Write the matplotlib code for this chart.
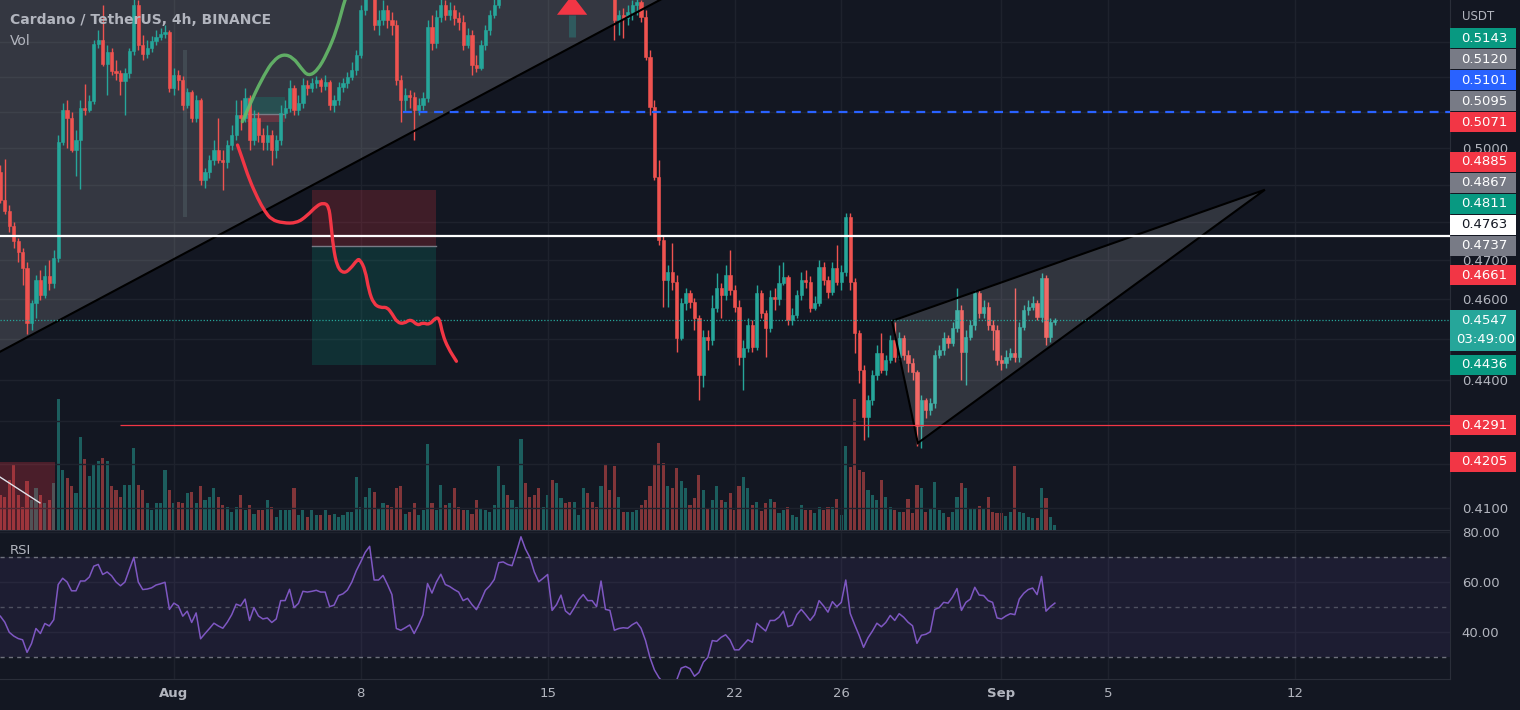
import numpy as np
import pandas as pd
import matplotlib
matplotlib.use("Agg")
import matplotlib.pyplot as plt
from matplotlib.patches import Rectangle, Polygon, PathPatch
from matplotlib.path import Path
from matplotlib.ticker import NullLocator

plt.rcParams["font.family"] = ["DejaVu Sans"]

BG = "#131722"
TXT = "#b2b5be"
GRID = "#1e222d"
BORDER = "#2a2e39"
UP = "#26a69a"
DOWN = "#ef5350"

# ADA/USDT 4h candles (Binance), first bar 2022-07-25 12:00
first_open = 0.4935
close = [
    0.4859, 0.4829, 0.4789, 0.4750, 0.4722, 0.4680, 0.4540, 0.4590, 0.4649, 0.4611,
    0.4659, 0.4641, 0.4705, 0.5016, 0.5106, 0.5084, 0.4994, 0.5022, 0.5112, 0.5106,
    0.5131, 0.5295, 0.5307, 0.5237, 0.5272, 0.5217, 0.5211, 0.5188, 0.5211, 0.5275,
    0.5410, 0.5292, 0.5266, 0.5284, 0.5304, 0.5316, 0.5325, 0.5330, 0.5168, 0.5205,
    0.5191, 0.5120, 0.5156, 0.5084, 0.5134, 0.4913, 0.4935, 0.4967, 0.4994, 0.4967,
    0.4962, 0.5008, 0.5036, 0.5092, 0.5084, 0.5140, 0.5022, 0.5084, 0.5036, 0.5016,
    0.5036, 0.4994, 0.5022, 0.5098, 0.5112, 0.5168, 0.5106, 0.5126, 0.5177, 0.5168,
    0.5182, 0.5191, 0.5174, 0.5185, 0.5120, 0.5134, 0.5171, 0.5182, 0.5200, 0.5220,
    0.5263, 0.5395, 0.5455, 0.5500, 0.5351, 0.5366, 0.5395, 0.5366, 0.5351, 0.5191,
    0.5134, 0.5148, 0.5142, 0.5106, 0.5120, 0.5140, 0.5345, 0.5298, 0.5375, 0.5410,
    0.5381, 0.5395, 0.5372, 0.5360, 0.5292, 0.5322, 0.5234, 0.5226, 0.5292, 0.5336,
    0.5381, 0.5410, 0.5470, 0.5485, 0.5470, 0.5485, 0.5546, 0.5608, 0.5577, 0.5546,
    0.5531, 0.5500, 0.5516, 0.5540, 0.5455, 0.5470, 0.5500, 0.5461, 0.5449, 0.5467,
    0.5491, 0.5510, 0.5491, 0.5485, 0.5470, 0.5531, 0.5449, 0.5440, 0.5366, 0.5381,
    0.5372, 0.5389, 0.5410, 0.5419, 0.5375, 0.5258, 0.5115, 0.4921, 0.4753, 0.4649,
    0.4670, 0.4644, 0.4503, 0.4590, 0.4616, 0.4593, 0.4553, 0.4412, 0.4505, 0.4498,
    0.4578, 0.4628, 0.4611, 0.4662, 0.4623, 0.4580, 0.4455, 0.4478, 0.4535, 0.4480,
    0.4616, 0.4565, 0.4528, 0.4606, 0.4601, 0.4641, 0.4657, 0.4548, 0.4560, 0.4611,
    0.4649, 0.4644, 0.4578, 0.4590, 0.4683, 0.4649, 0.4618, 0.4680, 0.4644, 0.4670,
    0.4813, 0.4644, 0.4515, 0.4424, 0.4311, 0.4352, 0.4412, 0.4465, 0.4424, 0.4448,
    0.4498, 0.4455, 0.4503, 0.4460, 0.4441, 0.4419, 0.4288, 0.4352, 0.4328, 0.4345,
    0.4460, 0.4473, 0.4503, 0.4490, 0.4528, 0.4573, 0.4468, 0.4505, 0.4535, 0.4616,
    0.4565, 0.4580, 0.4535, 0.4523, 0.4448, 0.4441, 0.4455, 0.4465, 0.4455, 0.4530,
    0.4573, 0.4580, 0.4590, 0.4555, 0.4654, 0.4505, 0.4543, 0.4547,
]
high = [
    0.4953, 0.4970, 0.4845, 0.4800, 0.4758, 0.4732, 0.4695, 0.4598, 0.4662, 0.4675,
    0.4688, 0.4700, 0.4727, 0.5036, 0.5126, 0.5134, 0.5100, 0.5050, 0.5134, 0.5179,
    0.5148, 0.5307, 0.5336, 0.5410, 0.5292, 0.5284, 0.5249, 0.5220, 0.5226, 0.5284,
    0.5455, 0.5425, 0.5322, 0.5307, 0.5319, 0.5336, 0.5342, 0.5351, 0.5336, 0.5226,
    0.5220, 0.5203, 0.5168, 0.5162, 0.5148, 0.5140, 0.4945, 0.4981, 0.5022, 0.5084,
    0.4994, 0.5022, 0.5064, 0.5134, 0.5134, 0.5168, 0.5148, 0.5106, 0.5100, 0.5056,
    0.5064, 0.5050, 0.5036, 0.5120, 0.5134, 0.5191, 0.5177, 0.5148, 0.5197, 0.5191,
    0.5197, 0.5203, 0.5197, 0.5205, 0.5191, 0.5148, 0.5185, 0.5197, 0.5214, 0.5243,
    0.5278, 0.5410, 0.5470, 0.5516, 0.5516, 0.5395, 0.5425, 0.5410, 0.5389, 0.5366,
    0.5205, 0.5168, 0.5162, 0.5156, 0.5140, 0.5156, 0.5366, 0.5381, 0.5395, 0.5440,
    0.5425, 0.5419, 0.5410, 0.5389, 0.5381, 0.5342, 0.5336, 0.5263, 0.5307, 0.5351,
    0.5395, 0.5431, 0.5485, 0.5500, 0.5500, 0.5510, 0.5561, 0.5639, 0.5623, 0.5592,
    0.5561, 0.5546, 0.5531, 0.5561, 0.5546, 0.5485, 0.5516, 0.5510, 0.5470, 0.5479,
    0.5504, 0.5522, 0.5522, 0.5504, 0.5497, 0.5546, 0.5534, 0.5461, 0.5449, 0.5395,
    0.5401, 0.5410, 0.5425, 0.5434, 0.5425, 0.5395, 0.5278, 0.5134, 0.4967, 0.4763,
    0.4688, 0.4745, 0.4662, 0.4603, 0.4628, 0.4623, 0.4603, 0.4560, 0.4523, 0.4523,
    0.4611, 0.4667, 0.4641, 0.4688, 0.4727, 0.4636, 0.4598, 0.4498, 0.4553, 0.4548,
    0.4636, 0.4623, 0.4573, 0.4623, 0.4628, 0.4688, 0.4695, 0.4662, 0.4578, 0.4623,
    0.4670, 0.4675, 0.4659, 0.4608, 0.4700, 0.4695, 0.4659, 0.4695, 0.4740, 0.4688,
    0.4824, 0.4824, 0.4654, 0.4523, 0.4436, 0.4364, 0.4424, 0.4485, 0.4515, 0.4460,
    0.4510, 0.4543, 0.4518, 0.4510, 0.4473, 0.4453, 0.4424, 0.4364, 0.4357, 0.4357,
    0.4473, 0.4485, 0.4518, 0.4510, 0.4543, 0.4628, 0.4585, 0.4523, 0.4548, 0.4623,
    0.4623, 0.4598, 0.4593, 0.4548, 0.4535, 0.4460, 0.4473, 0.4478, 0.4628, 0.4543,
    0.4585, 0.4598, 0.4608, 0.4598, 0.4667, 0.4662, 0.4553, 0.4553,
]
low = [
    0.4851, 0.4821, 0.4774, 0.4732, 0.4695, 0.4636, 0.4513, 0.4523, 0.4553, 0.4598,
    0.4603, 0.4623, 0.4628, 0.4695, 0.5008, 0.5000, 0.4989, 0.4924, 0.4889, 0.5092,
    0.5100, 0.5123, 0.5284, 0.5231, 0.5148, 0.5205, 0.5191, 0.5148, 0.5092, 0.5197,
    0.5263, 0.5278, 0.5249, 0.5255, 0.5272, 0.5292, 0.5307, 0.5313, 0.5156, 0.5148,
    0.5162, 0.5106, 0.5112, 0.5072, 0.5072, 0.4900, 0.4891, 0.4918, 0.4953, 0.4959,
    0.4886, 0.4945, 0.4994, 0.5022, 0.5050, 0.5072, 0.4994, 0.5008, 0.5016, 0.4994,
    0.4994, 0.4953, 0.4972, 0.5008, 0.5084, 0.5100, 0.5092, 0.5092, 0.5112, 0.5148,
    0.5156, 0.5168, 0.5156, 0.5162, 0.5106, 0.5100, 0.5120, 0.5156, 0.5168, 0.5191,
    0.5205, 0.5255, 0.5381, 0.5440, 0.5336, 0.5322, 0.5351, 0.5342, 0.5322, 0.5177,
    0.5072, 0.5100, 0.5112, 0.5022, 0.5092, 0.5106, 0.5128, 0.5278, 0.5284, 0.5360,
    0.5366, 0.5366, 0.5351, 0.5336, 0.5278, 0.5284, 0.5205, 0.5214, 0.5220, 0.5278,
    0.5322, 0.5372, 0.5401, 0.5455, 0.5449, 0.5461, 0.5479, 0.5540, 0.5546, 0.5531,
    0.5500, 0.5479, 0.5485, 0.5500, 0.5440, 0.5440, 0.5455, 0.5440, 0.5437, 0.5443,
    0.5461, 0.5485, 0.5479, 0.5470, 0.5455, 0.5461, 0.5437, 0.5434, 0.5307, 0.5322,
    0.5313, 0.5351, 0.5366, 0.5381, 0.5360, 0.5249, 0.5092, 0.4913, 0.4740, 0.4581,
    0.4581, 0.4623, 0.4468, 0.4498, 0.4573, 0.4578, 0.4523, 0.4352, 0.4383, 0.4473,
    0.4485, 0.4568, 0.4553, 0.4598, 0.4611, 0.4568, 0.4436, 0.4376, 0.4468, 0.4468,
    0.4473, 0.4553, 0.4455, 0.4518, 0.4573, 0.4585, 0.4636, 0.4535, 0.4535, 0.4553,
    0.4598, 0.4628, 0.4568, 0.4573, 0.4583, 0.4636, 0.4603, 0.4611, 0.4636, 0.4623,
    0.4659, 0.4623, 0.4465, 0.4393, 0.4257, 0.4264, 0.4340, 0.4400, 0.4417, 0.4412,
    0.4441, 0.4443, 0.4448, 0.4448, 0.4419, 0.4400, 0.4241, 0.4238, 0.4309, 0.4316,
    0.4333, 0.4453, 0.4460, 0.4478, 0.4483, 0.4518, 0.4400, 0.4388, 0.4498, 0.4523,
    0.4553, 0.4553, 0.4523, 0.4473, 0.4436, 0.4424, 0.4429, 0.4448, 0.4443, 0.4443,
    0.4523, 0.4560, 0.4573, 0.4548, 0.4543, 0.4485, 0.4493, 0.4535,
]
# volume, millions of ADA
volume = [
    35, 33, 50, 65, 35, 23, 49, 30, 42, 35, 27, 30, 47, 131, 60, 52, 44, 37, 93, 71,
    54, 65, 69, 72, 69, 44, 40, 33, 45, 45, 82, 45, 40, 27, 20, 27, 27, 60, 40, 27,
    28, 27, 37, 38, 27, 44, 30, 33, 42, 33, 25, 23, 18, 23, 35, 20, 25, 16, 20, 20,
    30, 23, 13, 20, 20, 20, 42, 15, 20, 13, 20, 15, 15, 20, 15, 16, 13, 15, 18, 18,
    53, 23, 33, 42, 38, 22, 27, 25, 23, 42, 44, 16, 18, 27, 15, 20, 86, 27, 20, 45,
    25, 27, 42, 23, 20, 20, 16, 30, 22, 20, 18, 25, 64, 45, 35, 30, 23, 91, 47, 33,
    35, 42, 23, 35, 50, 47, 32, 27, 28, 28, 15, 42, 37, 28, 23, 44, 65, 40, 64, 33,
    18, 18, 18, 20, 25, 30, 44, 65, 87, 67, 44, 42, 62, 49, 42, 25, 32, 55, 40, 22,
    30, 44, 30, 28, 37, 20, 44, 53, 42, 25, 28, 19, 27, 31, 28, 17, 20, 23, 15, 13,
    25, 20, 20, 17, 23, 20, 23, 23, 31, 15, 84, 63, 131, 60, 58, 40, 35, 30, 50, 33,
    23, 20, 18, 18, 31, 17, 45, 42, 18, 22, 48, 20, 17, 13, 18, 33, 47, 42, 22, 22,
    24, 22, 33, 18, 17, 17, 14, 18, 64, 18, 17, 13, 12, 12, 42, 32, 13, 5,
]
rsi = [
    46.4, 44, 40, 38.5, 37.5, 37, 32, 35.5, 41.5, 39.5,
    43.5, 42.5, 45, 59, 61.5, 60, 56.5, 56.5, 60.4, 60.4,
    62, 66.3, 67, 63, 64, 62.5, 60, 58.5, 60, 65,
    69.8, 60, 57, 57.2, 57.7, 58.8, 59.3, 59.9, 49.1, 51.6,
    50.5, 46.4, 48.4, 43.9, 47.7, 37.4, 39.5, 41.5, 43.6, 42.5,
    41.6, 44, 47, 51.2, 50.5, 53.2, 44.7, 49.8, 46.5, 45.3,
    45.7, 43.9, 45.3, 52.6, 52.6, 57.1, 49.8, 51.5, 56.3, 56,
    56.3, 56.7, 56, 56, 50.2, 50.8, 54.6, 55.3, 56.8, 60,
    64.5, 68, 71.8, 74.2, 60.8, 60.8, 62.6, 59, 55, 41.5,
    40.8, 41.8, 42.9, 39.5, 42.9, 47, 59.4, 55.6, 60, 63.1,
    59, 58.2, 57, 56, 52.6, 53.5, 51, 49, 52.6, 56.7,
    58.5, 61, 67.7, 68, 67, 66.5, 72, 78, 73.2, 69.8,
    64, 60.1, 61.5, 63, 48.7, 51, 54.8, 48.5, 47, 49.8,
    53, 55, 52.6, 52.6, 50.2, 60.4, 49.1, 48.7, 40.8, 41.5,
    41.8, 41.6, 43, 44, 41.6, 36.7, 29.9, 25, 22, 20,
    19, 20, 21, 25.7, 26.4, 25.5, 22.5, 24, 28.1, 30,
    36.7, 36.4, 38, 39, 36.9, 33, 33, 35, 37, 36,
    43.6, 42, 40.5, 44.7, 44.7, 46, 48.4, 42.2, 42.9, 47,
    49.1, 47, 44.7, 47, 52.6, 50.5, 48, 52.2, 50.2, 51.9,
    60.8, 47.5, 43, 38.8, 34, 37.8, 40.5, 43.6, 42.2, 43.9,
    46.7, 44.7, 47.4, 46, 44, 42.6, 35.6, 38.8, 39.2, 40.2,
    49.1, 49.8, 51.9, 51.6, 54, 57.4, 48.7, 51.9, 53.2, 57.9,
    54.8, 54.6, 52.6, 51.9, 45.7, 45.3, 46.5, 47.4, 47, 53.2,
    55.5, 57, 57.6, 55, 62.2, 48.4, 50.2, 51.6,
]

start = "2022-07-25 12:00"
date_ticks = ["2022-08-01", "2022-08-08", "2022-08-15", "2022-08-22",
              "2022-08-26", "2022-09-01", "2022-09-05", "2022-09-12"]
date_labels = ["Aug", "8", "15", "22", "26", "Sep", "5", "12"]
price_ticks = [0.41, 0.42, 0.43, 0.44, 0.45, 0.46, 0.47, 0.48, 0.49, 0.50, 0.51, 0.52, 0.53]
rsi_ticks = [40, 60, 80]

# price scale tags
tag_values = [0.5143, 0.5120, 0.5101, 0.5095, 0.5071, 0.4885, 0.4867, 0.4811,
              0.4763, 0.4737, 0.4661, 0.4547, 0.4436, 0.4291, 0.4205]
tag_faces = ["#089981", "#787b86", "#2962ff", "#787b86", "#f23645", "#f23645", "#787b86",
             "#089981", "#ffffff", "#787b86", "#f23645", "#26a69a", "#089981", "#f23645", "#f23645"]
tag_inks = ["white"] * 8 + ["#131722"] + ["white"] * 6
last_price = 0.4547
countdown = "03:49:00"

# drawings, x in bars since start, y in price
trend_a = (6, 0.4504)
trend_b = (140, 0.5367)
wedge = [(200.4, 0.4545), (284.2, 0.4886), (206.2, 0.4249)]
green_x = [54.4, 56.7, 59.4, 61.3, 63.5, 65.8, 67.7, 69.2, 71.2, 73.4, 75.6, 77.2, 78.1]
green_y = [0.5073, 0.5140, 0.5208, 0.5246, 0.5266, 0.5256, 0.5223, 0.5202, 0.5217,
           0.5266, 0.5336, 0.5416, 0.5449]
red_x = [53.3, 54.4, 55.9, 57.9, 59.4, 60.9, 63.5, 66.6, 68.9, 71.1, 72.6, 73.8, 74.3,
         74.8, 75.7, 77.2, 78.7, 80.2, 80.8, 82.0, 82.8, 83.9, 85.4, 86.9, 88.1, 89.2,
         90.7, 92.2, 93.8, 94.9, 96.4, 97.9, 98.7, 99.4, 100.6, 102.5]
red_y = [0.5008, 0.4970, 0.4915, 0.4861, 0.4829, 0.4806, 0.4797, 0.4797, 0.4816, 0.4843,
         0.4851, 0.4843, 0.4797, 0.4735, 0.4682, 0.4665, 0.4678, 0.4701, 0.4702, 0.4675,
         0.4622, 0.4588, 0.4578, 0.4580, 0.4562, 0.4541, 0.4538, 0.4550, 0.4533, 0.4541,
         0.4535, 0.4554, 0.4550, 0.4511, 0.4478, 0.4445]
short_pos = (70.0, 97.9, 0.4885, 0.4737, 0.4436)   # x0, x1, stop, entry, target
long_pos = (55.4, 64.0, 0.5071, 0.5095, 0.5143)    # x0, x1, stop, entry, target
white_level = 0.4763
blue_level, blue_from = 0.5101, 90.5
red_level, red_from = 0.4291, 26.9
red_zone = (-5, 12.3, 0.4205)
zone_stroke = [(-0.08, 0.4170), (8.9, 0.4111)]
ghost_bar = (41.5, 0.4813, 0.5278)
arrow = (128.5, 0.5316, 0.5381, 0.5440)   # x, stem bottom, head base, tip

W, H = 1520, 710
PANE_W = 1450
PRICE_H = 530
RSI_BOTTOM = 679

n = len(close)
x = np.arange(n)
close = np.array(close)
opens = np.r_[first_open, close[:-1]]
up = close >= opens
tick_idx = (pd.to_datetime(date_ticks) - pd.Timestamp(start)) / pd.Timedelta(hours=4)
xmin, xmax = -0.08, 325.8

fig = plt.figure(figsize=(W / 100, H / 100), dpi=100, facecolor=BG)
ax = fig.add_axes([0, (H - PRICE_H) / H, PANE_W / W, PRICE_H / H])
ax_vol = ax.twinx()
ax_rsi = fig.add_axes([0, (H - RSI_BOTTOM) / H, PANE_W / W, (RSI_BOTTOM - PRICE_H) / H], sharex=ax)
ax.set_zorder(2)
ax_vol.set_zorder(1)
ax.patch.set_visible(False)
ax_vol.patch.set_facecolor(BG)
ax_rsi.set_facecolor(BG)

# volume
vol_cols = [(38/255, 166/255, 154/255, 0.5) if u else (239/255, 83/255, 80/255, 0.5) for u in up]
ax_vol.bar(x, volume, width=0.7, color=vol_cols, lw=0)
ax_vol.set_ylim(0, max(volume) * 4.05)
ax_vol.yaxis.set_visible(False)
for s in ax_vol.spines.values():
    s.set_visible(False)

# price pane
ax.set_yscale("log")
ax.set_ylim(0.4050, 0.5425)
ax.set_xlim(xmin, xmax)
for t in price_ticks:
    ax.axhline(t, color=GRID, lw=1, zorder=0)
for t in tick_idx:
    ax.axvline(t, color=GRID, lw=1, zorder=0)

# shaded zone above the rising trend line
slope = (np.log(trend_b[1]) - np.log(trend_a[1])) / (trend_b[0] - trend_a[0])
tl = lambda xx: np.exp(np.log(trend_a[1]) + slope * (xx - trend_a[0]))
ax.add_patch(Polygon([(-5, tl(-5)), (160, tl(160)), (160, 0.7), (-5, 0.7)],
                     facecolor=(1, 1, 1, 0.14), edgecolor="none", zorder=1))
ax.plot([-5, 160], [tl(-5), tl(160)], color="black", lw=1.5, zorder=5)

# wedge
ax.add_patch(Polygon(wedge, closed=True, facecolor=(1, 1, 1, 0.13), edgecolor="black",
                     lw=1.5, zorder=5))

# position boxes
x0, x1, stop, entry, target = short_pos
ax.add_patch(Rectangle((x0, entry), x1 - x0, stop - entry, facecolor=(242/255, 54/255, 69/255, 0.2),
                       edgecolor="none", zorder=1))
ax.add_patch(Rectangle((x0, target), x1 - x0, entry - target, facecolor=(8/255, 153/255, 129/255, 0.2),
                       edgecolor="none", zorder=1))
ax.plot([x0, x1], [entry, entry], color="#787b86", lw=1, zorder=2)
x0, x1, stop, entry, target = long_pos
ax.add_patch(Rectangle((x0, entry), x1 - x0, target - entry, facecolor=(8/255, 153/255, 129/255, 0.25),
                       edgecolor="none", zorder=1))
ax.add_patch(Rectangle((x0, stop), x1 - x0, entry - stop, facecolor=(242/255, 54/255, 69/255, 0.25),
                       edgecolor="none", zorder=1))
ax.plot([x0, x1], [entry, entry], color="#787b86", lw=1, zorder=2)

# red zone bottom left
ax.add_patch(Rectangle((red_zone[0], 0.39), red_zone[1] - red_zone[0], red_zone[2] - 0.39,
                       facecolor=(242/255, 54/255, 69/255, 0.25), edgecolor="none", zorder=1))
ax.plot(*zip(*zone_stroke), color="#e0e3eb", lw=1, zorder=2)
ax.add_patch(Rectangle((ghost_bar[0] - 0.35, ghost_bar[1]), 0.7, ghost_bar[2] - ghost_bar[1],
                       facecolor=(90/255, 110/255, 115/255, 0.35), edgecolor="none", zorder=2))

# candles
cols = np.where(up, UP, DOWN)
ax.vlines(x, low, high, colors=cols, lw=1, zorder=3)
lo_b = np.minimum(opens, close)
hi_b = np.maximum(opens, close)
ax.bar(x, hi_b - lo_b, bottom=lo_b, width=0.72, color=cols, edgecolor=cols, lw=0.4, zorder=4)

# horizontal levels
ax.axhline(white_level, color="white", lw=1.6, zorder=6)
ax.hlines(blue_level, blue_from, xmax, color="#2962ff", lw=1.6, ls=(0, (4, 3)), zorder=6)
ax.hlines(red_level, red_from, xmax, color="#f23645", lw=0.9, zorder=6)
ax.axhline(last_price, color=UP, lw=0.9, ls=(0, (1, 1.5)), zorder=6)


def smooth(xs, ys):
    pts = list(zip(xs, ys))
    verts, codes = [pts[0]], [Path.MOVETO]
    for k in range(1, len(pts) - 1):
        mid = ((pts[k][0] + pts[k + 1][0]) / 2, (pts[k][1] + pts[k + 1][1]) / 2)
        verts += [pts[k], mid]
        codes += [Path.CURVE3, Path.CURVE3]
    verts.append(pts[-1])
    codes.append(Path.LINETO)
    return Path(verts, codes)


ax.add_patch(PathPatch(smooth(green_x, green_y), facecolor="none", edgecolor="#66bb6a",
                       lw=2.4, capstyle="round", joinstyle="round", alpha=0.9, zorder=7))
ax.add_patch(PathPatch(smooth(red_x, red_y), facecolor="none", edgecolor="#f23645",
                       lw=2.4, capstyle="round", joinstyle="round", zorder=7))

# arrow mark
ax_x, stem_lo, head_lo, tip = arrow
ax.plot([ax_x, ax_x], [stem_lo, head_lo], color="#2f5a5e", lw=5, solid_capstyle="butt", zorder=7)
ax.add_patch(Polygon([(ax_x - 3.4, head_lo), (ax_x + 3.4, head_lo), (ax_x, tip)],
                     facecolor="#f23645", edgecolor="none", zorder=7))

# price tags, stacked upward so they never overlap
to_px = lambda p: H - ax.transData.transform((0, p))[1]
placed = {}
prev = None
for k in np.argsort(tag_values):
    y = to_px(tag_values[k])
    if prev is not None:
        y = min(y, prev - 21)
    placed[k] = y
    prev = y
spans = []
for k, y in placed.items():
    h = 41 if tag_values[k] == last_price else 20
    spans.append((y - 10, y - 10 + h))
    fig.add_artist(Rectangle((PANE_W / W, 1 - (y - 10 + h) / H), 66 / W, h / H,
                             transform=fig.transFigure, facecolor=tag_faces[k],
                             edgecolor="none", zorder=5))
    fig.text((PANE_W + 34) / W, 1 - y / H, f"{tag_values[k]:.4f}", color=tag_inks[k],
             fontsize=9.5, ha="center", va="center", zorder=6)
    if tag_values[k] == last_price:
        fig.text((PANE_W + 36) / W, 1 - (y + 19.5) / H, countdown, color=tag_inks[k],
                 fontsize=9.5, ha="center", va="center", zorder=6)

# plain scale labels only where no tag sits on top of them
labels = []
for t in price_ticks:
    ty = to_px(t)
    covered = any(a - 3 <= ty <= b + 3 for a, b in spans)
    labels.append("" if covered else f"{t:.4f}")
ax.yaxis.tick_right()
ax.yaxis.set_minor_locator(NullLocator())
ax.set_yticks(price_ticks)
ax.set_yticklabels(labels)
ax.tick_params(axis="y", length=0, pad=8.5, labelcolor=TXT, labelsize=9.5)
ax.set_xticks(tick_idx)
ax.tick_params(axis="x", length=0, labelbottom=False)
for side, s in ax.spines.items():
    s.set_visible(side == "right")
    s.set_color(BORDER)

# RSI pane
ax_rsi.set_ylim(21.4, 80.7)
ax_rsi.axhspan(30, 70, color="#7e57c2", alpha=0.1, lw=0)
for t in rsi_ticks:
    ax_rsi.axhline(t, color=GRID, lw=1, zorder=0)
for t in tick_idx:
    ax_rsi.axvline(t, color=GRID, lw=1, zorder=0)
for lvl, a in ((70, 0.9), (50, 0.55), (30, 0.9)):
    ax_rsi.axhline(lvl, color="#787b86", lw=1, ls=(0, (3, 3)), alpha=a, zorder=1)
ax_rsi.plot(x, rsi, color="#7e57c2", lw=1.1, zorder=3)
ax_rsi.yaxis.tick_right()
ax_rsi.set_yticks(rsi_ticks)
ax_rsi.set_yticklabels([f"{t:.2f}" for t in rsi_ticks])
ax_rsi.tick_params(axis="y", length=0, pad=8.5, labelcolor=TXT, labelsize=9.5)
ax_rsi.set_xticks(tick_idx)
ax_rsi.set_xticklabels(date_labels)
ax_rsi.tick_params(axis="x", length=0, pad=6, labelcolor=TXT, labelsize=9.5)
for lab in ax_rsi.get_xticklabels():
    if lab.get_text() in ("Aug", "Sep"):
        lab.set_fontweight("bold")
for side, s in ax_rsi.spines.items():
    s.set_visible(side != "left")
    s.set_color(BORDER)

# legends
fig.text(10 / W, 1 - 20 / H, "Cardano / TetherUS, 4h, BINANCE", color=TXT, fontsize=10,
         fontweight="bold", va="center", ha="left")
fig.text(10 / W, 1 - 41 / H, "Vol", color=TXT, fontsize=10, va="center", ha="left")
fig.text(10 / W, 1 - 551 / H, "RSI", color=TXT, fontsize=9.5, va="center", ha="left")
fig.text(1462 / W, 1 - 16 / H, "USDT", color=TXT, fontsize=8.5, va="center", ha="left")

fig.savefig("out.png", dpi=100, facecolor=BG)
